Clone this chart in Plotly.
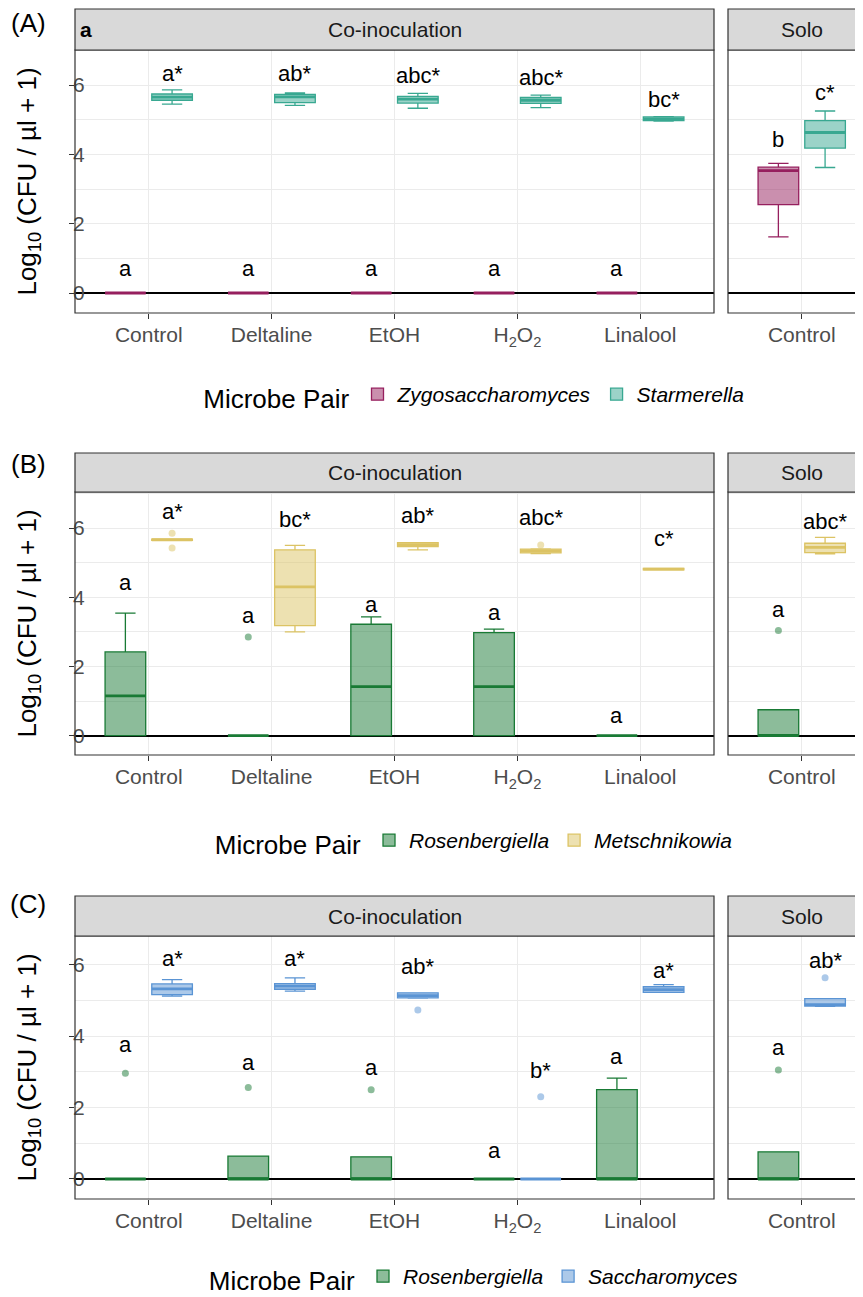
import plotly.graph_objects as go

W, H = 863, 1297
PAGE_OFF = 8   # the page body margin shifts the figure by 8 px
FONT = "Liberation Sans, Arial, Helvetica, sans-serif"

# ---------------- data ----------------
treatments = ["Control", "Deltaline", "EtOH", "H2O2", "Linalool"]
solo_treatments = ["Control"]
facet_names = ["Co-inoculation", "Solo"]
tick_labels = ["Control", "Deltaline", "EtOH", "H<sub>2</sub>O<sub>2</sub>", "Linalool"]
legend_title = "Microbe Pair"
y_title = "Log<sub>10</sub> (CFU / µl + 1)"
panel_tags = ["(A)", "(B)", "(C)"]

# every array: the 5 co-inoculation treatments, then the Solo Control
# (A) Zygosaccharomyces
A0_low = [0, 0, 0, 0, 0, 1.62]
A0_q1 = [0, 0, 0, 0, 0, 2.55]
A0_med = [0, 0, 0, 0, 0, 3.53]
A0_q3 = [0, 0, 0, 0, 0, 3.63]
A0_high = [0, 0, 0, 0, 0, 3.74]
A0_out = [[], [], [], [], [], []]
A0_lab = ["a", "a", "a", "a", "a", "b"]
A0_laby = [0.70, 0.70, 0.70, 0.70, 0.70, 4.42]
# (A) Starmerella
A1_low = [5.45, 5.41, 5.33, 5.35, 4.96, 3.62]
A1_q1 = [5.56, 5.49, 5.48, 5.47, 4.97, 4.18]
A1_med = [5.65, 5.66, 5.59, 5.56, 5.02, 4.63]
A1_q3 = [5.74, 5.73, 5.67, 5.64, 5.08, 4.97]
A1_high = [5.86, 5.77, 5.76, 5.71, 5.09, 5.25]
A1_out = [[], [], [], [], [], []]
A1_lab = ["a*", "ab*", "abc*", "abc*", "bc*", "c*"]
A1_laby = [6.34, 6.34, 6.27, 6.22, 5.57, 5.78]

# (B) Rosenbergiella
B0_low = [0, 0, 0, 0, 0, 0]
B0_q1 = [0, 0, 0, 0, 0, 0]
B0_med = [1.15, 0, 1.42, 1.42, 0, 0]
B0_q3 = [2.42, 0, 3.22, 2.98, 0, 0.75]
B0_high = [3.54, 0, 3.43, 3.08, 0, 0.75]
B0_out = [[], [2.85], [], [], [], [3.04]]
B0_lab = ["a", "a", "a", "a", "a", "a"]
B0_laby = [4.42, 3.47, 3.80, 3.57, 0.59, 3.64]
# (B) Metschnikowia
B1_low = [5.64, 3.00, 5.37, 5.26, 4.79, 5.25]
B1_q1 = [5.64, 3.18, 5.46, 5.28, 4.79, 5.29]
B1_med = [5.66, 4.30, 5.52, 5.34, 4.81, 5.44]
B1_q3 = [5.68, 5.37, 5.58, 5.39, 4.83, 5.56]
B1_high = [5.68, 5.50, 5.58, 5.40, 4.83, 5.73]
B1_out = [[5.85, 5.42], [], [], [5.51], [], []]
B1_lab = ["a*", "bc*", "ab*", "abc*", "c*", "abc*"]
B1_laby = [6.47, 6.25, 6.35, 6.31, 5.69, 6.20]

# (C) Rosenbergiella
C0_low = [0, 0, 0, 0, 0, 0]
C0_q1 = [0, 0, 0, 0, 0, 0]
C0_med = [0, 0, 0, 0, 0, 0]
C0_q3 = [0, 0.64, 0.62, 0, 2.50, 0.76]
C0_high = [0, 0.64, 0.62, 0, 2.82, 0.76]
C0_out = [[2.96], [2.56], [2.50], [], [], [3.05]]
C0_lab = ["a", "a", "a", "a", "a", "a"]
C0_laby = [3.77, 3.26, 3.13, 0.80, 3.42, 3.67]
# (C) Saccharomyces
C1_low = [5.12, 5.26, 5.06, 0, 5.22, 4.83]
C1_q1 = [5.16, 5.31, 5.07, 0, 5.22, 4.84]
C1_med = [5.32, 5.40, 5.13, 0, 5.30, 4.88]
C1_q3 = [5.46, 5.47, 5.21, 0, 5.38, 5.05]
C1_high = [5.58, 5.63, 5.21, 0, 5.44, 5.05]
C1_out = [[], [], [4.73], [2.30], [], [5.63]]
C1_lab = ["a*", "a*", "ab*", "b*", "a*", "ab*"]
C1_laby = [6.17, 6.17, 5.96, 3.03, 5.84, 6.12]

species_A = ["Zygosaccharomyces", "Starmerella"]
species_B = ["Rosenbergiella", "Metschnikowia"]
species_C = ["Rosenbergiella", "Saccharomyces"]
colors_A = ["#961F5E", "#38A891"]
colors_B = ["#197A35", "#DCC364"]
colors_C = ["#197A35", "#5A94D4"]

# ---------------- layout geometry (page pixels) ----------------
CO_X = (75, 714)          # co-inoculation panel left/right
SOLO_X0 = 728             # solo panel left (right side is cropped by the page)
PANEL_Y = [(50, 313), (492, 755), (936, 1199)]   # plot area top/bottom
STRIP_TOP = [9, 453, 896]
YRANGES = [[-0.577, 7.01], [-0.557, 7.04], [-0.56, 6.80]]
LEGEND_Y = [396, 842, 1278]
TAG_Y = [23, 464, 904]
BOXGAP, BOXGROUPGAP = 0.24, 0.13
DODGE = (1 - BOXGAP) / 4
unit_px = (CO_X[1] - CO_X[0]) / (len(treatments) + 0.2)
SOLO_X1 = PAGE_OFF + W    # right edge of the figure on the page
solo_range = [-0.6, -0.6 + (SOLO_X1 - SOLO_X0) / unit_px]


def fx(px):
    return (px - PAGE_OFF) / W


def fy(py):
    return 1 - (py - PAGE_OFF) / H


def rgba(hexc, a):
    h = hexc.lstrip("#")
    r, g, b = int(h[0:2], 16), int(h[2:4], 16), int(h[4:6], 16)
    return f"rgba({r},{g},{b},{a})"


panels = [
    dict(species=species_A, colors=colors_A,
         stats=[(A0_low, A0_q1, A0_med, A0_q3, A0_high, A0_out, A0_lab, A0_laby),
                (A1_low, A1_q1, A1_med, A1_q3, A1_high, A1_out, A1_lab, A1_laby)]),
    dict(species=species_B, colors=colors_B,
         stats=[(B0_low, B0_q1, B0_med, B0_q3, B0_high, B0_out, B0_lab, B0_laby),
                (B1_low, B1_q1, B1_med, B1_q3, B1_high, B1_out, B1_lab, B1_laby)]),
    dict(species=species_C, colors=colors_C,
         stats=[(C0_low, C0_q1, C0_med, C0_q3, C0_high, C0_out, C0_lab, C0_laby),
                (C1_low, C1_q1, C1_med, C1_q3, C1_high, C1_out, C1_lab, C1_laby)]),
]

fig = go.Figure()
annotations = []
shapes = []
layout_axes = {}

for p, panel in enumerate(panels):
    legend_id = "legend" if p == 0 else f"legend{p + 1}"
    top_px, bot_px = PANEL_Y[p]
    ydom = [fy(bot_px), fy(top_px)]
    for f in range(2):
        n = 2 * p + f + 1
        xa = "x" if n == 1 else f"x{n}"
        ya = "y" if n == 1 else f"y{n}"
        cats = treatments if f == 0 else solo_treatments
        sl = slice(0, 5) if f == 0 else slice(5, 6)
        for s, (lo, q1, med, q3, hi, out, lab, laby) in enumerate(panel["stats"]):
            col = panel["colors"][s]
            common = dict(x=cats, xaxis=xa, yaxis=ya, offsetgroup=f"g{s}",
                          alignmentgroup=f"a{n}", hoverinfo="skip")
            # per-box outlier samples (a None placeholder keeps the 2-D shape)
            samples = [o if len(o) else [None] for o in out[sl]]
            fig.add_trace(go.Box(
                q1=q1[sl], median=med[sl], q3=q3[sl],
                lowerfence=lo[sl], upperfence=hi[sl], y=samples,
                boxpoints="outliers", jitter=0, pointpos=0,
                fillcolor=rgba(col, 0.5), line=dict(color=col, width=1.3),
                marker=dict(color=rgba(col, 0.5), size=7, line=dict(width=0)),
                name=f"<i>{panel['species'][s]}</i>", legend=legend_id,
                legendgroup=f"p{p}s{s}", showlegend=(f == 0), **common))
            # thicker median line (ggplot fatten)
            fig.add_trace(go.Box(
                q1=med[sl], median=med[sl], q3=med[sl],
                lowerfence=med[sl], upperfence=med[sl],
                boxpoints=False, fillcolor="rgba(0,0,0,0)",
                line=dict(color=col, width=2.8), legend=legend_id,
                legendgroup=f"p{p}s{s}", showlegend=False, **common))
            off = -DODGE if s == 0 else DODGE
            for i, (t, yv) in enumerate(zip(lab[sl], laby[sl])):
                annotations.append(dict(
                    x=i + off, y=yv, xref=xa, yref=ya, text=t, showarrow=False,
                    font=dict(size=22, color="black", family=FONT),
                    xanchor="center", yanchor="middle"))

        xdom = [fx(CO_X[0]), fx(CO_X[1])] if f == 0 else [fx(SOLO_X0), 1.0]
        xkey = "xaxis" if n == 1 else f"xaxis{n}"
        ykey = "yaxis" if n == 1 else f"yaxis{n}"
        layout_axes[xkey] = dict(
            domain=xdom, anchor=ya, type="category",
            categoryorder="array", categoryarray=cats,
            range=[-0.6, len(cats) - 1 + 0.6] if f == 0 else solo_range,
            tickvals=cats, ticktext=tick_labels[:len(cats)],
            showgrid=True, gridcolor="#EBEBEB", gridwidth=1.1,
            ticks="outside", ticklen=5, tickwidth=1.1, tickcolor="#333333",
            ticklabelstandoff=-2,
            tickfont=dict(size=21, color="#4D4D4D", family=FONT),
            showline=False, zeroline=False, automargin=False, fixedrange=True)
        layout_axes[ykey] = dict(
            domain=ydom, anchor=xa, range=YRANGES[p],
            tickmode="linear", tick0=0, dtick=2,
            showgrid=True, gridcolor="#EBEBEB", gridwidth=1.1,
            minor=dict(dtick=1, showgrid=True, gridcolor="#EBEBEB", gridwidth=0.6, ticks=""),
            zeroline=True, zerolinecolor="black", zerolinewidth=1.5,
            ticks="outside" if f == 0 else "", ticklen=5, tickwidth=1.1,
            tickcolor="#333333", showticklabels=(f == 0),
            ticklabelstandoff=-20,
            tickfont=dict(size=21, color="#4D4D4D", family=FONT),
            showline=False, automargin=False, fixedrange=True,
            title=dict(text=y_title if f == 0 else "", standoff=29,
                       font=dict(size=26, color="black", family=FONT)))

        # panel border and strip
        x0p = xdom[0]
        x1p = xdom[1] if f == 0 else 1.02
        shapes.append(dict(type="rect", xref="paper", yref="paper",
                           x0=x0p, x1=x1p, y0=ydom[0], y1=ydom[1],
                           line=dict(color="#333333", width=1.2),
                           fillcolor="rgba(0,0,0,0)", layer="above"))
        shapes.append(dict(type="rect", xref="paper", yref="paper",
                           x0=x0p, x1=x1p, y0=ydom[1], y1=fy(STRIP_TOP[p]),
                           line=dict(color="#333333", width=1.2),
                           fillcolor="#D9D9D9", layer="above"))
        strip_cx = fx((CO_X[0] + CO_X[1]) / 2) if f == 0 else fx(SOLO_X0 + unit_px * 0.6)
        annotations.append(dict(
            x=strip_cx, y=(ydom[1] + fy(STRIP_TOP[p])) / 2, xref="paper", yref="paper",
            text=facet_names[f], showarrow=False, xanchor="center", yanchor="middle",
            font=dict(size=21, color="#1A1A1A", family=FONT)))

    annotations.append(dict(
        x=fx(28), y=fy(TAG_Y[p]), xref="paper", yref="paper", text=panel_tags[p],
        showarrow=False, xanchor="center", yanchor="middle",
        font=dict(size=26, color="black", family=FONT)))

    layout_axes[legend_id] = dict(
        orientation="h", x=fx((CO_X[0] + SOLO_X0 + unit_px * 1.2) / 2), xanchor="center",
        y=fy(LEGEND_Y[p]), yanchor="middle",
        title=dict(text=legend_title, side="left",
                   font=dict(size=26, color="black", family=FONT)),
        font=dict(size=21, color="black", family=FONT),
        bgcolor="rgba(0,0,0,0)", itemclick=False, itemdoubleclick=False)

# bold tag in strip of panel A
annotations.append(dict(
    x=fx(86), y=fy(29), xref="paper", yref="paper", text="<b>a</b>",
    showarrow=False, xanchor="center", yanchor="middle",
    font=dict(size=21, color="black", family=FONT)))

fig.update_layout(
    width=W, height=H, margin=dict(l=0, r=0, t=0, b=0),
    paper_bgcolor="white", plot_bgcolor="white",
    boxmode="group", boxgap=BOXGAP, boxgroupgap=BOXGROUPGAP,
    font=dict(family=FONT), annotations=annotations, shapes=shapes,
    **layout_axes)

fig.write_html("out.html")
